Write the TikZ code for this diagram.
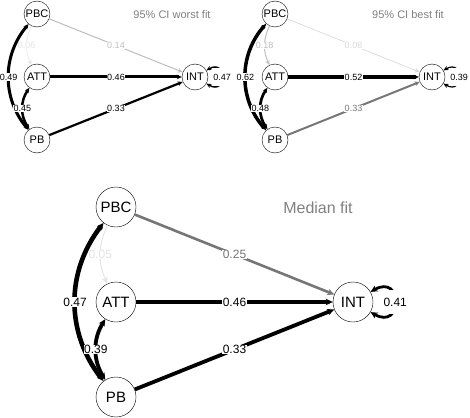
\documentclass[tikz,border=0pt]{standalone}
\usepackage{fontspec}
\setmainfont{Liberation Sans}
\usepackage{tikz}
\usetikzlibrary{arrows.meta,positioning}
\usepackage{xcolor}
\definecolor{semtitle}{RGB}{128,128,128}
\definecolor{semmid}{RGB}{118,118,118}
\definecolor{semlight}{RGB}{190,190,190}
\definecolor{semfaint}{RGB}{218,218,218}
\definecolor{semghost}{RGB}{228,228,228}
\tikzstyle{var} = [circle, draw, thin, fill=white, inner sep=0pt]
\tikzstyle{varS} = [var, minimum size=26pt, font=\fontsize{11}{12}\selectfont]
\tikzstyle{varL} = [var, minimum size=40pt, font=\fontsize{15}{17}\selectfont]
\tikzstyle{regS} = [-{Stealth[length=5pt,width=4.5pt]}]
\tikzstyle{regL} = [-{Stealth[length=7pt,width=6.5pt]}]
\tikzstyle{covS} = [{Stealth[length=5pt,width=4.5pt]}-{Stealth[length=5pt,width=4.5pt]}]
\tikzstyle{covL} = [{Stealth[length=7pt,width=6.5pt]}-{Stealth[length=7pt,width=6.5pt]}]
\tikzstyle{wt} = [fill=white, inner sep=0.6pt]
\tikzstyle{wtS} = [wt, font=\fontsize{9}{10}\selectfont]
\tikzstyle{wtL} = [wt, font=\fontsize{12}{13}\selectfont]
\tikzstyle{resS} = [wtS, inner xsep=1.5pt, inner ysep=6pt]
\tikzstyle{resL} = [wtL, inner xsep=2.5pt, inner ysep=8pt]
\tikzstyle{fittitle} = [text=semtitle]

\begin{document}
\begin{tikzpicture}[x=1pt, y=1pt]
\useasboundingbox (0,0) rectangle (470,-417);

% 95% CI worst fit
\node (pbcA) [varS] at (37,-14) {PBC};
\node (attA) [varS, below of=pbcA, node distance=63pt] {ATT};
\node (pbA) [varS, below of=attA, node distance=63pt] {PB};
\node (intA) [varS, right of=attA, node distance=158pt] {INT};
\node (titleA) [fittitle, font=\fontsize{11}{12}\selectfont] at (172,-15) {95\% CI worst fit};

\draw[regS, semlight, line width=1pt] (pbcA) -- node[wtS] {0.14} (intA);
\draw[regS, line width=3pt] (attA) -- node[wtS] {0.46} (intA);
\draw[regS, line width=2.2pt] (pbA) -- node[wtS] {0.33} (intA);
\draw[regS, semghost, line width=0.6pt] (pbcA) to[bend right=25] node[wtS] {0.06} (attA);
\draw[covS, line width=3pt] (pbA) to[bend left=40] node[wtS] {0.49} (pbcA);
\draw[covS, line width=2.5pt] (pbA) to[bend left=35] node[wtS] {0.45} (attA);
\draw[covS, line width=1.5pt] (intA.30) .. controls +(30:24) and +(-30:24) .. node[resS] {0.47} (intA.-30);

% 95% CI best fit
\node (pbcB) [varS] at (275,-14) {PBC};
\node (attB) [varS, below of=pbcB, node distance=63pt] {ATT};
\node (pbB) [varS, below of=attB, node distance=63pt] {PB};
\node (intB) [varS, right of=attB, node distance=157pt] {INT};
\node (titleB) [fittitle, font=\fontsize{11}{12}\selectfont] at (408,-15) {95\% CI best fit};

\draw[regS, semfaint, line width=0.7pt] (pbcB) -- node[wtS] {0.08} (intB);
\draw[regS, line width=3.2pt] (attB) -- node[wtS] {0.52} (intB);
\draw[regS, semmid, line width=2pt] (pbB) -- node[wtS] {0.33} (intB);
\draw[regS, semlight, line width=1pt] (pbcB) to[bend right=25] node[wtS] {0.18} (attB);
\draw[covS, line width=3.5pt] (pbB) to[bend left=42] node[wtS] {0.62} (pbcB);
\draw[covS, line width=2.7pt] (pbB) to[bend left=35] node[wtS] {0.48} (attB);
\draw[covS, line width=1.2pt] (intB.30) .. controls +(30:24) and +(-30:24) .. node[resS] {0.39} (intB.-30);

% Median fit
\node (pbcC) [varL] at (116,-207) {PBC};
\node (attC) [varL, below of=pbcC, node distance=95pt] {ATT};
\node (pbC) [varL, below of=attC, node distance=95pt] {PB};
\node (intC) [varL, right of=attC, node distance=237pt] {INT};
\node (titleC) [fittitle, font=\fontsize{16}{18}\selectfont] at (318,-208) {Median fit};

\draw[regL, semmid, line width=2.6pt] (pbcC) -- node[wtL] {0.25} (intC);
\draw[regL, line width=4.6pt] (attC) -- node[wtL] {0.46} (intC);
\draw[regL, line width=3.8pt] (pbC) -- node[wtL] {0.33} (intC);
\draw[regL, semghost, line width=1pt] (pbcC) to[bend right=25] node[wtL] {0.05} (attC);
\draw[covL, line width=4.6pt] (pbC) to[bend left=38] node[wtL] {0.47} (pbcC);
\draw[covL, line width=3.8pt] (pbC) to[bend left=32] node[wtL] {0.39} (attC);
\draw[covL, line width=2.8pt] (intC.30) .. controls +(30:38) and +(-30:38) .. node[resL] {0.41} (intC.-30);

\end{tikzpicture}
\end{document}
